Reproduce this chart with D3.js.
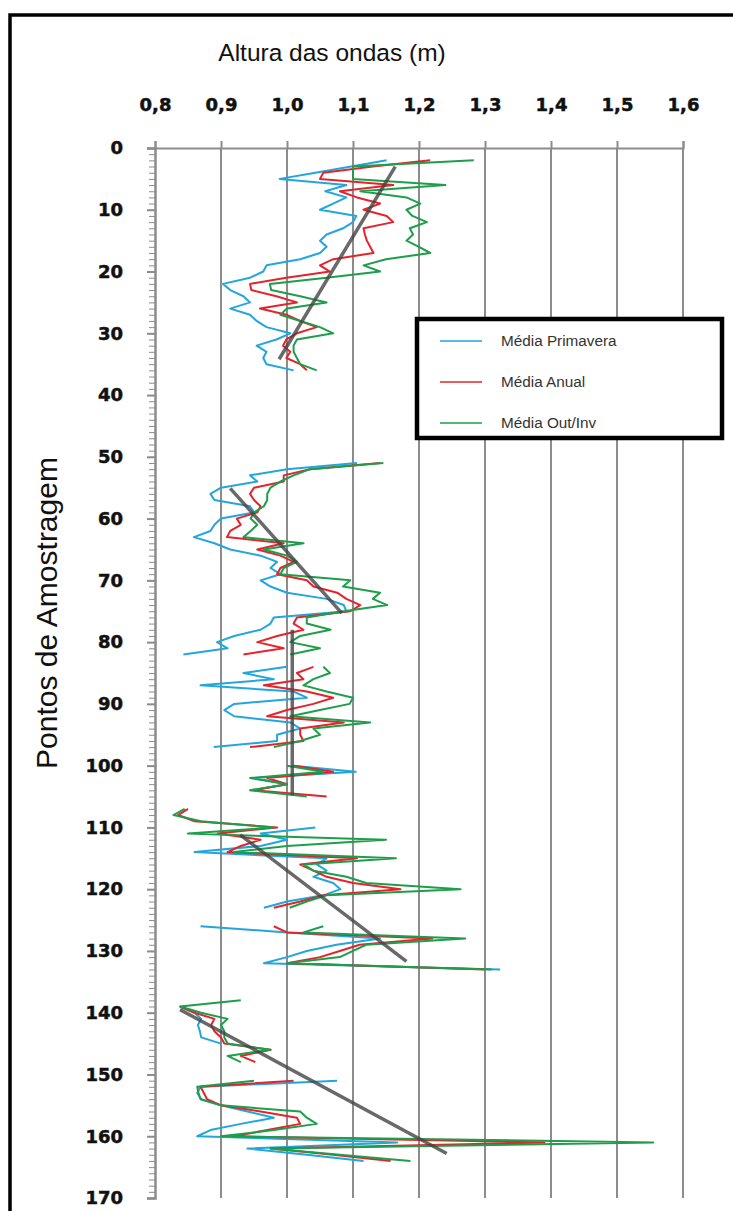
<!DOCTYPE html>
<html>
<head>
<meta charset="utf-8">
<script src="https://cdn.jsdelivr.net/npm/d3@7"></script>
<style>
  html, body { margin: 0; padding: 0; background: #fff; }
  svg { display: block; }
</style>
</head>
<body>
<script>
// Altura das ondas (m) por ponto de amostragem: médias sazonais e anual.
const xTicks = [0.8, 0.9, 1.0, 1.1, 1.2, 1.3, 1.4, 1.5, 1.6];
const yTicks = [0, 10, 20, 30, 40, 50, 60, 70, 80, 90, 100, 110, 120, 130, 140, 150, 160, 170];
const seriesNames = ["Média Primavera", "Média Anual", "Média Out/Inv"];

// Valores indexados pelo número do ponto (0..165); null = sem medição.
const N = null;
const mediaPrimavera = [
  N, N, 1.151, 1.097, 1.043, 0.989, 1.09, 1.058, 1.09, 1.07,
  1.05, 1.105, 1.10, 1.085, 1.06, 1.05, 1.06, 1.05, 1.02, 0.969,
  0.964, 0.944, 0.903, 0.914, 0.934, 0.944, 0.914, 0.944, 0.954, 0.969,
  1.005, 0.984, 0.954, 0.969, 0.964, 0.969, 1.01, N, N, N,
  N, N, N, N, N, N, N, N, N, N,
  N, 1.106, 1.0, 0.944, 0.955, 0.90, 0.884, 0.89, 0.944, 0.95,
  0.90, 0.89, 0.884, 0.859, 0.89, 0.914, 0.96, 0.985, 0.975, 0.99,
  0.96, 0.975, 1.0, 1.06, 1.086, 1.09, 0.98, 0.975, 0.96, 0.92,
  0.894, 0.91, 0.843, N, 1.0, 0.934, 0.98, 0.869, 1.01, 1.03,
  0.92, 0.905, 0.92, 1.005, 1.02, 0.985, 0.985, 0.889, N, N,
  1.01, 1.104, 0.95, 1.0, 0.945, N, N, N, N, N,
  1.043, 0.96, 1.0, 0.96, 0.86, 1.06, 1.045, 1.06, 1.04, 1.07,
  1.081, 1.055, 1.0, 0.965, N, N, 0.869, 1.0, 1.141, 1.075,
  1.03, 1.0, 0.965, 1.323, N, N, N, N, N, 0.838,
  0.86, 0.87, 0.865, 0.868, 0.87, 0.9, N, N, N, N,
  N, 1.076, 0.869, 0.864, 0.87, 0.9, 0.94, 0.98, 0.93, 0.884,
  0.864, 1.167, 0.94, 1.03, 1.116, N
];
const mediaAnual = [
  N, N, 1.217, 1.13, 1.055, 1.05, 1.161, 1.08, 1.106, 1.141,
  1.116, 1.151, 1.161, 1.116, 1.118, 1.121, 1.126, 1.131, 1.07, 1.05,
  1.065, 0.999, 0.944, 0.946, 0.984, 1.015, 0.959, 0.999, 1.02, 1.045,
  1.015, 0.999, 0.994, 1.005, 0.999, 1.02, 1.03, N, N, N,
  N, N, N, N, N, N, N, N, N, N,
  N, 1.141, 1.035, 0.995, 0.995, 0.95, 0.944, 0.95, 0.96, 0.955,
  0.924, 0.93, 0.914, 0.909, 0.995, 0.955, 0.99, 1.01, 0.99, 0.985,
  1.03, 1.04, 1.076, 1.09, 1.111, 1.096, 1.015, 1.01, 1.025, 0.985,
  0.955, 0.995, 0.934, N, 1.04, 1.015, 1.025, 0.965, 1.03, 1.07,
  1.04, 1.0, 0.97, 1.086, 1.02, 1.02, 1.025, 0.944, N, N,
  1.01, 1.07, 0.97, 1.0, 0.95, 1.06, N, 0.85, 0.835, 0.86,
  0.985, 0.895, 0.96, 0.93, 0.91, 1.106, 1.02, 1.04, 1.06, 1.10,
  1.172, 1.055, 1.02, 0.98, N, N, 0.98, 1.0, 1.22, 1.11,
  1.08, 1.05, 1.0, 1.30, N, N, N, N, N, 0.838,
  0.86, 0.89, 0.885, 0.89, 0.9, 0.905, 0.975, 0.93, 0.952, N,
  N, 1.01, 0.869, 0.874, 0.879, 0.9, 0.96, 1.015, 1.02, 0.97,
  0.92, 1.39, 0.975, 1.07, 1.157, N
];
const mediaOutInv = [
  N, N, 1.283, 1.10, 1.10, 1.10, 1.24, 1.111, 1.181, 1.202,
  1.181, 1.19, 1.212, 1.186, 1.191, 1.181, 1.2, 1.217, 1.15, 1.116,
  1.141, 1.06, 0.974, 0.976, 1.02, 1.06, 1.0, 0.99, 1.02, 1.05,
  1.07, 1.015, 1.01, 1.01, 1.015, 1.02, 1.045, N, N, N,
  N, N, N, N, N, N, N, N, N, N,
  N, 1.146, 1.035, 1.01, 0.99, 0.975, 0.97, 0.97, 0.965, 0.95,
  0.945, 0.955, 0.945, 0.934, 1.025, 0.965, 1.0, 1.015, 0.995, 0.99,
  1.096, 1.085, 1.141, 1.13, 1.152, 1.086, 1.03, 1.03, 1.066, 1.02,
  1.005, 1.05, 1.005, N, 1.055, 1.065, 1.04, 1.025, 1.06, 1.10,
  1.095, 1.05, 1.005, 1.126, 1.04, 1.05, 1.02, 0.98, N, N,
  1.0, 1.055, 0.944, 1.0, 0.944, 1.03, N, 0.845, 0.828, 0.87,
  0.98, 0.85, 1.15, 1.0, 0.92, 1.165, 1.025, 1.04, 1.09, 1.12,
  1.263, 1.06, 1.03, 1.004, N, N, 1.055, 1.025, 1.27, 1.12,
  1.10, 1.08, 1.0, 1.31, N, N, N, N, 0.93, 0.838,
  0.87, 0.91, 0.90, 0.905, 0.905, 0.91, 0.975, 0.91, 0.93, N,
  N, 0.95, 0.864, 0.866, 0.869, 0.9, 1.02, 1.03, 1.045, 0.98,
  0.90, 1.555, 0.975, 1.08, 1.187, N
];

// Linhas de tendência de cada trecho: pontos inicial/final e alturas correspondentes.
const tendenciaPontos = [[3, 34.2], [55.1, 75.3], [78, 104.8], [111.2, 131.7], [139.5, 162.8]];
const tendenciaAlturas = [[1.164, 0.988], [0.914, 1.083], [1.008, 1.008], [0.929, 1.181], [0.838, 1.242]];

const W = 733, H = 1211;
const svg = d3.select("body").append("svg").attr("width", W).attr("height", H);

const x = d3.scaleLinear().domain([0.8, 1.6]).range([155, 683]);
const y = d3.scaleLinear().domain([0, 170]).range([148, 1198]);

const colors = ["#22a6dc", "#e3242b", "#1e9e4a"];
const gridColor = "#8c8c8c";

// moldura externa
svg.append("rect")
  .attr("x", 10).attr("y", 15).attr("width", 760).attr("height", 1230)
  .attr("fill", "none").attr("stroke", "#000").attr("stroke-width", 3.5);

// títulos dos eixos
svg.append("text")
  .attr("x", 332).attr("y", 61)
  .attr("text-anchor", "middle")
  .style("font-family", "'Liberation Sans', Arial, sans-serif")
  .style("font-size", "24.5px")
  .attr("fill", "#111")
  .text("Altura das ondas (m)");

svg.append("text")
  .attr("transform", "translate(57,613) rotate(-90)")
  .attr("text-anchor", "middle")
  .style("font-family", "'Liberation Sans', Arial, sans-serif")
  .style("font-size", "30px")
  .attr("fill", "#111")
  .text("Pontos de Amostragem");

// grade vertical
svg.append("g").selectAll("line")
  .data(xTicks.slice(1))
  .join("line")
  .attr("x1", d => x(d)).attr("x2", d => x(d))
  .attr("y1", y(0)).attr("y2", y(170))
  .attr("stroke", gridColor).attr("stroke-width", 2);

const tickFont = g => g.selectAll(".tick text")
  .style("font-family", "'DejaVu Sans', Verdana, sans-serif")
  .style("font-weight", "bold").style("font-size", "18px")
  .attr("fill", "#111").attr("stroke", "#111").attr("stroke-width", 0.5);

// eixo superior
const xAxis = svg.append("g")
  .attr("transform", `translate(0,${y(0)})`)
  .call(d3.axisTop(x).tickValues(xTicks).tickSize(7).tickPadding(30)
    .tickFormat(d => d.toFixed(1).replace(".", ",")));
xAxis.select(".domain").attr("stroke", gridColor).attr("stroke-width", 2);
xAxis.selectAll(".tick line").attr("stroke", gridColor).attr("stroke-width", 2);
xAxis.call(tickFont);

// eixo vertical: marcas menores a cada ponto
const yMinor = d3.range(0, 171);
svg.append("g")
  .attr("transform", `translate(${x(0.8)},0)`)
  .call(d3.axisLeft(y).tickValues(yMinor).tickSize(6).tickFormat(""))
  .call(g => g.select(".domain").remove())
  .call(g => g.selectAll(".tick line").attr("stroke", gridColor).attr("stroke-width", 1));

const yAxis = svg.append("g")
  .attr("transform", `translate(${x(0.8)},0)`)
  .call(d3.axisLeft(y).tickValues(yTicks).tickSize(8).tickPadding(24).tickFormat(d3.format("d")));
yAxis.select(".domain").attr("stroke", gridColor).attr("stroke-width", 2.5);
yAxis.selectAll(".tick line").attr("stroke", gridColor).attr("stroke-width", 2);
yAxis.call(tickFont);

// séries
const line = d3.line()
  .defined(d => d.v != null)
  .x(d => x(d.v))
  .y(d => y(d.p));

[mediaPrimavera, mediaAnual, mediaOutInv].forEach((serie, i) => {
  svg.append("path")
    .datum(serie.map((v, p) => ({ p, v })))
    .attr("fill", "none")
    .attr("stroke", colors[i])
    .attr("stroke-width", 2)
    .attr("stroke-linejoin", "round")
    .attr("d", line);
});

// tendências
svg.append("g").selectAll("line")
  .data(tendenciaPontos.map((pp, i) => ({ pp, vv: tendenciaAlturas[i] })))
  .join("line")
  .attr("x1", d => x(d.vv[0])).attr("y1", d => y(d.pp[0]))
  .attr("x2", d => x(d.vv[1])).attr("y2", d => y(d.pp[1]))
  .attr("stroke", "#444").attr("stroke-opacity", 0.8)
  .attr("stroke-width", 3.5);

// legenda
const leg = svg.append("g");
leg.append("rect")
  .attr("x", 417).attr("y", 319).attr("width", 305).attr("height", 119)
  .attr("fill", "#fff").attr("stroke", "#000").attr("stroke-width", 4.5);
seriesNames.forEach((name, i) => {
  const ly = 341 + i * 41;
  leg.append("line")
    .attr("x1", 440).attr("x2", 482).attr("y1", ly).attr("y2", ly)
    .attr("stroke", colors[i]).attr("stroke-opacity", 0.75).attr("stroke-width", 2);
  leg.append("text")
    .attr("x", 501).attr("y", ly + 5)
    .style("font-family", "'Liberation Sans', Arial, sans-serif")
    .style("font-size", "15.3px")
    .attr("fill", "#333")
    .text(name);
});
</script>
</body>
</html>
